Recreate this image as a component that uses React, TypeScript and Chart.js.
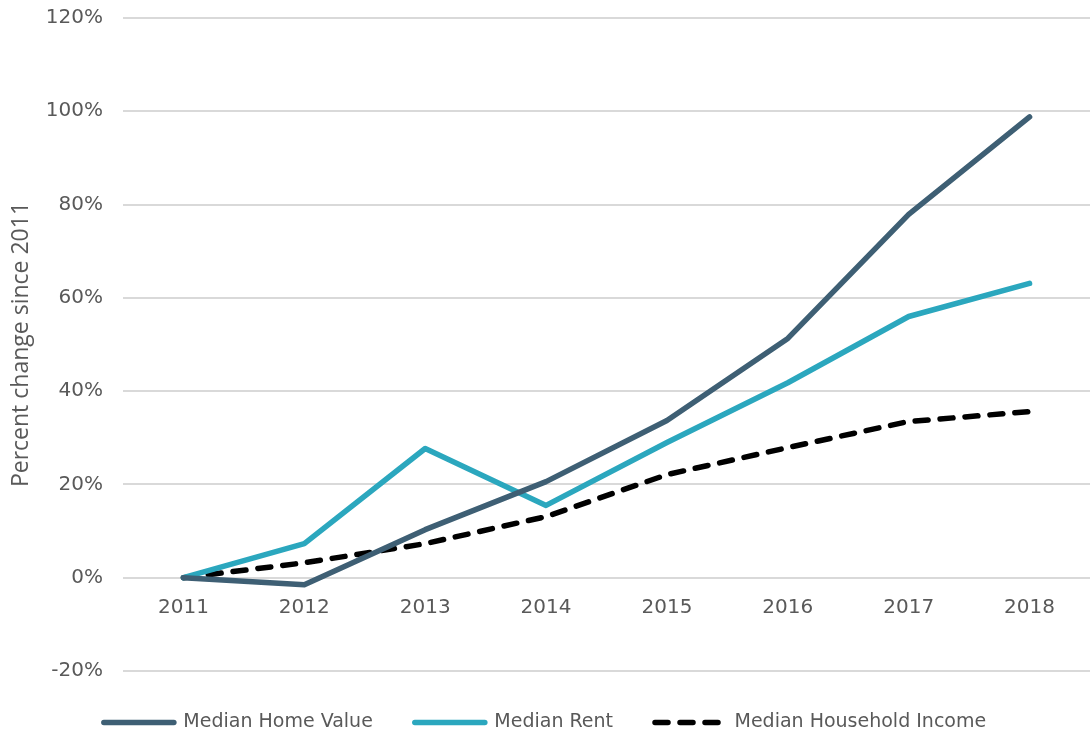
import React, { useEffect, useRef } from "react";
import { Chart, registerables } from "chart.js";

Chart.register(...registerables);

const years = ["2011", "2012", "2013", "2014", "2015", "2016", "2017", "2018"];
const homeValue = [0, -1.5, 10.3, 20.6, 33.7, 51.3, 77.9, 98.8];
const medianRent = [0, 7.3, 27.7, 15.5, 29.0, 41.8, 56.0, 63.1];
const householdIncome = [0, 3.2, 7.3, 13.1, 22.1, 27.9, 33.5, 35.6];
const yMin = -20;
const yMax = 120;
const yStep = 20;

const FONT = "'DejaVu Sans', sans-serif";
const TEXT = "#595959";

export default function App() {
  const ref = useRef<HTMLCanvasElement | null>(null);

  useEffect(() => {
    document.body.style.margin = "0";
    const chart = new Chart(ref.current as HTMLCanvasElement, {
      type: "line",
      data: {
        labels: years,
        datasets: [
          {
            label: "Median Home Value",
            data: homeValue,
            borderColor: "#3e5f74",
            backgroundColor: "#3e5f74",
            borderWidth: 5.5,
            pointRadius: 0,
            borderCapStyle: "round",
            borderJoinStyle: "round",
            tension: 0,
          },
          {
            label: "Median Rent",
            data: medianRent,
            borderColor: "#2ba7be",
            backgroundColor: "#2ba7be",
            borderWidth: 5.5,
            pointRadius: 0,
            borderCapStyle: "round",
            borderJoinStyle: "round",
            tension: 0,
          },
          {
            label: "Median Household Income",
            data: householdIncome,
            borderColor: "#000000",
            backgroundColor: "#000000",
            borderWidth: 5.5,
            borderDash: [13, 12],
            pointRadius: 0,
            borderCapStyle: "round",
            borderJoinStyle: "round",
            tension: 0,
          },
        ],
      },
      options: {
        animation: false,
        responsive: true,
        maintainAspectRatio: false,
        layout: { padding: { left: 0, right: 0, top: 18, bottom: -11 } },
        plugins: {
          tooltip: { enabled: false },
          legend: {
            position: "bottom",
            labels: {
              usePointStyle: true,
              pointStyleWidth: 70,
              boxHeight: 19,
              padding: 42,
              color: TEXT,
              font: { family: FONT, size: 19 },
              generateLabels: (c: any) =>
                c.data.datasets.map((ds: any, i: number) => ({
                  text: ds.label,
                  fillStyle: ds.borderColor,
                  strokeStyle: ds.borderColor,
                  lineWidth: 5.5,
                  lineDash: ds.borderDash || [],
                  lineCap: "round",
                  pointStyle: "line",
                  hidden: false,
                  datasetIndex: i,
                  fontColor: TEXT,
                })),
            },
          },
        },
        scales: {
          x: {
            type: "category",
            offset: true,
            position: { y: 0 } as any,
            grid: { display: false },
            border: { display: false },
            ticks: {
              color: TEXT,
              font: { family: FONT, size: 20 },
              padding: 10,
              maxRotation: 0,
            },
          },
          y: {
            min: yMin,
            max: yMax,
            grid: { color: "#d9d9d9", lineWidth: 2, drawTicks: false },
            border: { display: false },
            ticks: {
              stepSize: yStep,
              color: TEXT,
              font: { family: FONT, size: 20 },
              padding: 20,
              callback: (v: any) => v + "%",
            },
            title: {
              display: true,
              text: "Percent change since 2011",
              color: TEXT,
              font: { family: "'Open Sans', sans-serif", size: 23 },
              padding: { top: 8, bottom: 0 },
            },
            afterFit: (s: any) => {
              s.width = 123;
              s.paddingTop = 0;
              s.paddingBottom = 0;
            },
          },
        },
      },
    });
    return () => chart.destroy();
  }, []);

  return (
    <div style={{ width: 1090, height: 731, position: "relative" }}>
      <canvas ref={ref} />
    </div>
  );
}
